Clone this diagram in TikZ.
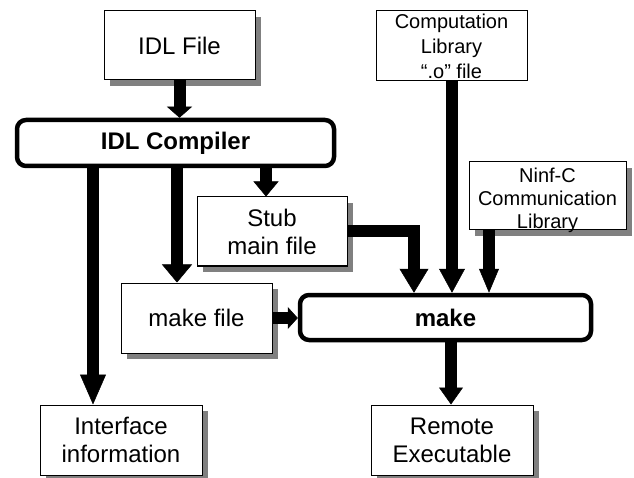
\documentclass[tikz,border=0pt]{standalone}
\usepackage{fontspec}
\setmainfont{Liberation Sans}
\usetikzlibrary{arrows.meta,shadows}
\definecolor{shadowgray}{gray}{0.5}
\begin{document}
\begin{tikzpicture}[x=1pt,y=-1pt,
  filebox/.style={draw=black,line width=1pt,fill=white,inner sep=0pt,align=center,
    font=\fontsize{24}{28}\selectfont},
  shadowed/.style={drop shadow={shadow xshift=6pt,shadow yshift=-6pt,fill=shadowgray,opacity=1}},
  smalltext/.style={font=\fontsize{20}{25}\selectfont},
  toolbox/.style={draw=black,line width=4.5pt,rounded corners=9pt,fill=white,inner sep=0pt,
    font=\fontsize{24}{28}\selectfont\bfseries},
  flow/.style={line width=12pt,line join=miter},
  head/.style 2 args={-{Triangle[width=#1pt,length=#2pt,line width=0.5pt]}},
]
\useasboundingbox (0,0) rectangle (634,478);

% sources
\node[filebox,shadowed,minimum width=151pt,minimum height=69pt] (idl) at (179.5,45.5) {IDL File};
\node[filebox,smalltext,minimum width=151pt,minimum height=70pt] (complib) at (451.5,46)
  {Computation\\Library\\“.o” file};
\node[filebox,shadowed,minimum width=157pt,minimum height=68pt] (ninf) at (547.5,196) {};
\node[font=\fontsize{20}{23}\selectfont,align=center,inner sep=0pt] (ninftext) at (547.5,200)
  {Ninf-C\\Communication\\Library};

% tools
\node[toolbox,minimum width=317pt,minimum height=46pt] (comp) at (175.5,143) {IDL Compiler};
\node[toolbox,minimum width=291pt,minimum height=45pt] (make) at (445.5,317.5) {make};

% generated files
\node[filebox,shadowed,minimum width=150pt,minimum height=69pt] (stub) at (272,231.5) {Stub\\main file};
\node[filebox,shadowed,minimum width=151pt,minimum height=70pt] (mf) at (196.5,318) {make file};
\node[filebox,shadowed,minimum width=162pt,minimum height=70pt] (iface) at (121,440) {Interface\\information};
\node[filebox,shadowed,minimum width=162pt,minimum height=70pt] (remote) at (452,440) {Remote\\Executable};

% flows
\draw[flow,head={25}{11}] (idl.south) -- (idl.south |- comp.north);
\draw[flow,head={26}{30}] (93,0 |- comp.south) -- (93,0 |- iface.north);
\draw[flow,head={30}{18}] (177,0 |- comp.south) -- (177,0 |- mf.north);
\draw[flow,head={25}{15}] (266,0 |- comp.south) -- (266,0 |- stub.north);
\draw[flow,head={29}{24}] (stub.east) -| (414,0 |- make.north);
\draw[flow,head={26}{24}] (452,0 |- complib.south) -- (452,0 |- make.north);
\draw[flow,head={20}{24}] (489,0 |- ninf.south) -- (489,0 |- make.north);
\draw[flow,head={22}{10}] (mf.east) -- (make.west |- mf.east);
\draw[flow,head={24}{17}] (451,0 |- make.south) -- (451,0 |- remote.north);
\end{tikzpicture}
\end{document}
